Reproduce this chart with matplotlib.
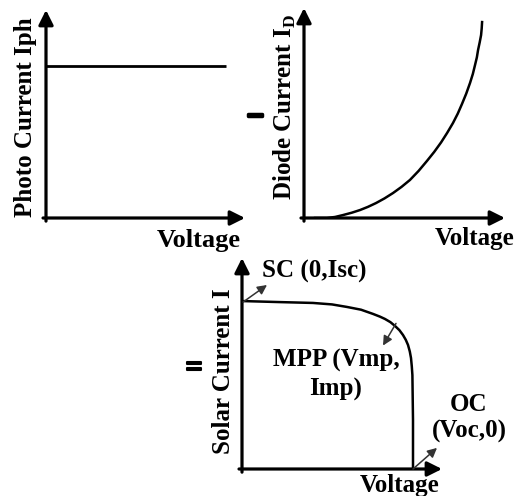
import matplotlib
matplotlib.use('Agg')
import matplotlib.pyplot as plt
import matplotlib.patheffects as pe

plt.rcParams['font.family'] = ['Liberation Serif', 'DejaVu Serif']
plt.rcParams['font.weight'] = 'bold'
plt.rcParams['mathtext.fontset'] = 'custom'
plt.rcParams['mathtext.rm'] = 'Liberation Serif:bold'
plt.rcParams['mathtext.bf'] = 'Liberation Serif:bold'

# =========================
# DATA (axes scaled 0..1)
# =========================
photo_v = [0.0, 0.905]
photo_i = [0.73, 0.73]

diode_v = [0.055, 0.114, 0.155, 0.194, 0.237, 0.279, 0.318, 0.358, 0.400,
           0.443, 0.485, 0.527, 0.570, 0.612, 0.648, 0.682, 0.712, 0.741,
           0.765, 0.786, 0.807, 0.826, 0.840, 0.851, 0.860, 0.866, 0.874,
           0.881, 0.884, 0.886]
diode_i = [0.0, 0.0, 0.005, 0.014, 0.025, 0.038, 0.053, 0.071, 0.093,
           0.119, 0.148, 0.181, 0.224, 0.272, 0.315, 0.360, 0.405, 0.452,
           0.497, 0.543, 0.592, 0.643, 0.686, 0.729, 0.765, 0.800, 0.836,
           0.871, 0.902, 0.933]

solar_v = [0.0, 0.19, 0.355, 0.450, 0.525, 0.595, 0.655, 0.690, 0.715,
           0.742, 0.765, 0.787, 0.805, 0.819, 0.83, 0.839, 0.845, 0.849,
           0.852, 0.855, 0.855]
solar_i = [0.796, 0.791, 0.787, 0.780, 0.768, 0.755, 0.735, 0.722, 0.711,
           0.696, 0.678, 0.658, 0.635, 0.612, 0.588, 0.557, 0.526, 0.486,
           0.445, 0.232, 0.0]

W, H = 520, 496
FS = 18


# =========================
# PANEL HELPERS
# =========================
def make_panel(fig, origin, x_tip, y_tip):
    ox, oy = origin
    ax = fig.add_axes([ox / W, 1 - oy / H, (x_tip - ox) / W, (oy - y_tip) / H])
    ax.set_xlim(0, 1)
    ax.set_ylim(0, 1)
    ax.axis("off")
    arrow = dict(arrowstyle="-|>", lw=2.3, color="black",
                 mutation_scale=22, shrinkA=0, shrinkB=0)
    ax.annotate("", xy=(1, 0), xytext=(-0.015, 0), xycoords="axes fraction",
                arrowprops=arrow, annotation_clip=False)
    ax.annotate("", xy=(0, 1), xytext=(0, -0.015), xycoords="axes fraction",
                arrowprops=arrow, annotation_clip=False)
    return ax


def small_arrow(ax, start, end):
    ax.annotate("", xy=end, xytext=start,
                arrowprops=dict(arrowstyle="-|>", lw=1.1, color="#333333",
                                mutation_scale=14, shrinkA=0, shrinkB=0),
                annotation_clip=False)


fig = plt.figure(figsize=(W / 100, H / 100), dpi=100)

# 1. Photo current
ax1 = make_panel(fig, (46, 218), 245, 10)
ax1.plot(photo_v, photo_i, color="black", lw=2.0, solid_capstyle="butt")
ax1.text(-0.105, 0.486, "Photo Current Iph", rotation=90, ha="center",
         va="center", fontsize=FS, transform=ax1.transAxes)
ax1.text(0.77, -0.106, "Voltage", ha="center", va="center", fontsize=FS + 1,
         transform=ax1.transAxes)

# 2. Diode current
ax2 = make_panel(fig, (304, 218), 505, 8)
ax2.plot(diode_v, diode_i, color="black", lw=1.8)
ax2.text(-0.095, 0.53, r"Diode Current I$_\mathrm{D}$", rotation=90,
         ha="center", va="center", fontsize=FS, transform=ax2.transAxes)
ax2.text(0.85, -0.096, "Voltage", ha="center", va="center", fontsize=FS,
         transform=ax2.transAxes)

# 3. Solar current
ax3 = make_panel(fig, (242, 469), 442, 258)
ax3.plot(solar_v, solar_i, color="black", lw=1.8)
ax3.text(-0.092, 0.464, "Solar Current I", rotation=90, ha="center",
         va="center", fontsize=FS, transform=ax3.transAxes)
ax3.text(0.79, -0.077, "Voltage", ha="center", va="center", fontsize=FS,
         transform=ax3.transAxes)

small_arrow(ax3, (0.005, 0.791), (0.125, 0.872))
ax3.text(0.10, 0.934, "SC (0,Isc)", ha="left", va="center", fontsize=FS)

small_arrow(ax3, (0.77, 0.69), (0.705, 0.585))
ax3.text(0.47, 0.445, "MPP (Vmp,\nImp)", ha="center", va="center",
         fontsize=FS, linespacing=1.3)

small_arrow(ax3, (0.855, 0.0), (0.975, 0.10))
ax3.text(1.135, 0.242, "OC\n(Voc,0)", ha="center", va="center",
         fontsize=FS, linespacing=1.2)

# operators between the panels
fig.text(255 / W, 1 - 115 / H, "\u2013", ha="center", va="center",
         fontsize=20, path_effects=[pe.withStroke(linewidth=2.5, foreground="black")])
fig.text(194 / W, 1 - 369 / H, "=", ha="center", va="center", fontsize=22,
         path_effects=[pe.withStroke(linewidth=1.5, foreground="black")])

fig.savefig("out.png", dpi=100)
